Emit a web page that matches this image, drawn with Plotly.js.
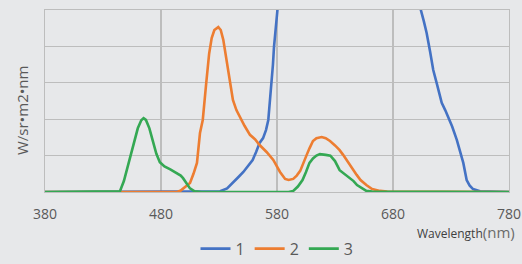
<!DOCTYPE html>
<html><head><meta charset="utf-8">
<script src="https://cdn.plot.ly/plotly-3.0.1.min.js"></script>
<style>html,body{margin:0;padding:0;background:#e7e8ea;}#c{width:522px;height:264px;}</style>
</head><body><div id="c"></div>
<script>
const seriesNames = ["1", "2", "3"];
const xTicks = [380, 480, 580, 680, 780];

const blueX = [380, 450, 520, 531, 537, 542, 547, 551, 555, 559, 562, 565, 568, 570.5, 572.5, 574, 575.4, 576.5, 577.4, 578.6, 579.7, 585, 595, 610, 630, 650, 670, 685, 695, 704, 706.5, 709, 712, 714.7, 718, 722, 725, 727.7, 731, 735, 738, 740.6, 743.5, 746, 749, 755, 780];
const blueY = [0, 0, 0, 0.02, 0.1, 0.25, 0.42, 0.55, 0.7, 0.88, 1.1, 1.35, 1.48, 1.7, 1.98, 2.5, 3.0, 3.5, 3.98, 4.5, 5.0, 7.5, 10, 12, 13, 13, 11, 9, 7, 5.0, 4.7, 4.37, 3.85, 3.35, 2.95, 2.45, 2.25, 2.06, 1.8, 1.43, 1.1, 0.8, 0.33, 0.18, 0.08, 0.02, 0];

const orangeX = [380, 450, 494, 497, 500.7, 505, 508, 511, 513.6, 516, 519, 521.5, 523.7, 526, 529.4, 531.5, 533.7, 536, 538, 540, 542, 545, 548, 552, 556.7, 561, 565, 571, 576.8, 582.6, 587, 590, 594, 597, 600, 602.5, 605.6, 608, 611, 614, 618.5, 622, 625.7, 630, 634, 637, 640, 644, 648.7, 652, 657, 662, 668.8, 675, 780];
const orangeY = [0, 0, 0, 0.04, 0.14, 0.25, 0.5, 0.8, 1.62, 1.98, 3.0, 3.8, 4.23, 4.45, 4.53, 4.45, 4.18, 3.7, 3.27, 2.85, 2.53, 2.25, 2.06, 1.82, 1.57, 1.45, 1.29, 1.1, 0.88, 0.55, 0.36, 0.33, 0.36, 0.45, 0.58, 0.8, 1.02, 1.2, 1.4, 1.48, 1.51, 1.48, 1.4, 1.28, 1.15, 1.02, 0.88, 0.66, 0.47, 0.33, 0.19, 0.08, 0.03, 0.01, 0];

const greenX = [380, 440, 444.6, 448, 452, 456, 460, 463, 465, 467, 470, 473, 476, 479, 483, 488, 494, 497, 499, 502, 505, 509, 515, 590, 594, 598, 602, 605, 608, 611, 614, 617, 619, 622, 626, 630, 634, 638, 643, 646, 649, 653, 657, 662, 780];
const greenY = [0, 0, 0.02, 0.3, 0.8, 1.3, 1.75, 1.97, 2.03, 1.98, 1.75, 1.4, 1.05, 0.82, 0.7, 0.62, 0.52, 0.45, 0.38, 0.25, 0.1, 0.02, 0, 0, 0.03, 0.15, 0.33, 0.55, 0.8, 0.92, 1.0, 1.04, 1.04, 1.02, 1.0, 0.85, 0.6, 0.5, 0.38, 0.3, 0.19, 0.1, 0.03, 0.01, 0];

const colors = ["#4472c4", "#ed7d31", "#34a853"];
const xs = [blueX, orangeX, greenX];
const ys = [blueY, orangeY, greenY];

const traces = seriesNames.map((n, i) => ({
  x: xs[i], y: ys[i], name: n, type: "scatter", mode: "lines",
  line: {color: colors[i], width: 2.6}, cliponaxis: true
}));

const grid = "#bdbdbd";
const layout = {
  width: 522, height: 264,
  margin: {l: 45, r: 13, t: 10, b: 72, autoexpand: false},
  paper_bgcolor: "#e7e8ea", plot_bgcolor: "#e7e8ea",
  font: {family: "Open Sans, DejaVu Sans, sans-serif", color: "#595959"},
  showlegend: true,
  legend: {orientation: "h", x: 0.5, xanchor: "center", yref: "container", y: 0.058, yanchor: "middle",
    font: {size: 16, color: "#595959"}, bgcolor: "rgba(0,0,0,0)", tracegroupgap: 0},
  xaxis: {range: [380, 780], tickvals: xTicks, ticktext: xTicks.map(String),
    showgrid: true, gridcolor: grid, gridwidth: 1.2, zeroline: false,
    showline: true, linecolor: grid, linewidth: 1.2, mirror: true, ticks: "",
    tickfont: {size: 14, color: "#595959"}, ticklen: 0, ticklabelstandoff: 9, automargin: false},
  yaxis: {range: [0, 5], dtick: 1, showticklabels: false, showgrid: true,
    gridcolor: grid, gridwidth: 1.2, zeroline: false, showline: true,
    linecolor: grid, linewidth: 1.2, mirror: true, ticks: "", automargin: false},
  annotations: [
    {xref: "paper", yref: "paper", x: 1.017, y: -0.22, xanchor: "right", yanchor: "middle",
     showarrow: false,
     text: "<span style='font-size:12px;color:#404040'>Wavelength</span><span style='font-size:15px;color:#6b6b6b'>(nm)</span>"},
    {xref: "paper", yref: "paper", x: 0, xshift: -23, y: 0.445, xanchor: "center", yanchor: "middle",
     textangle: -90, showarrow: false, text: "W/sr•m2•nm", font: {size: 15, color: "#595959"}}
  ]
};
Plotly.newPlot("c", traces, layout, {displayModeBar: false, staticPlot: true});
</script></body></html>
